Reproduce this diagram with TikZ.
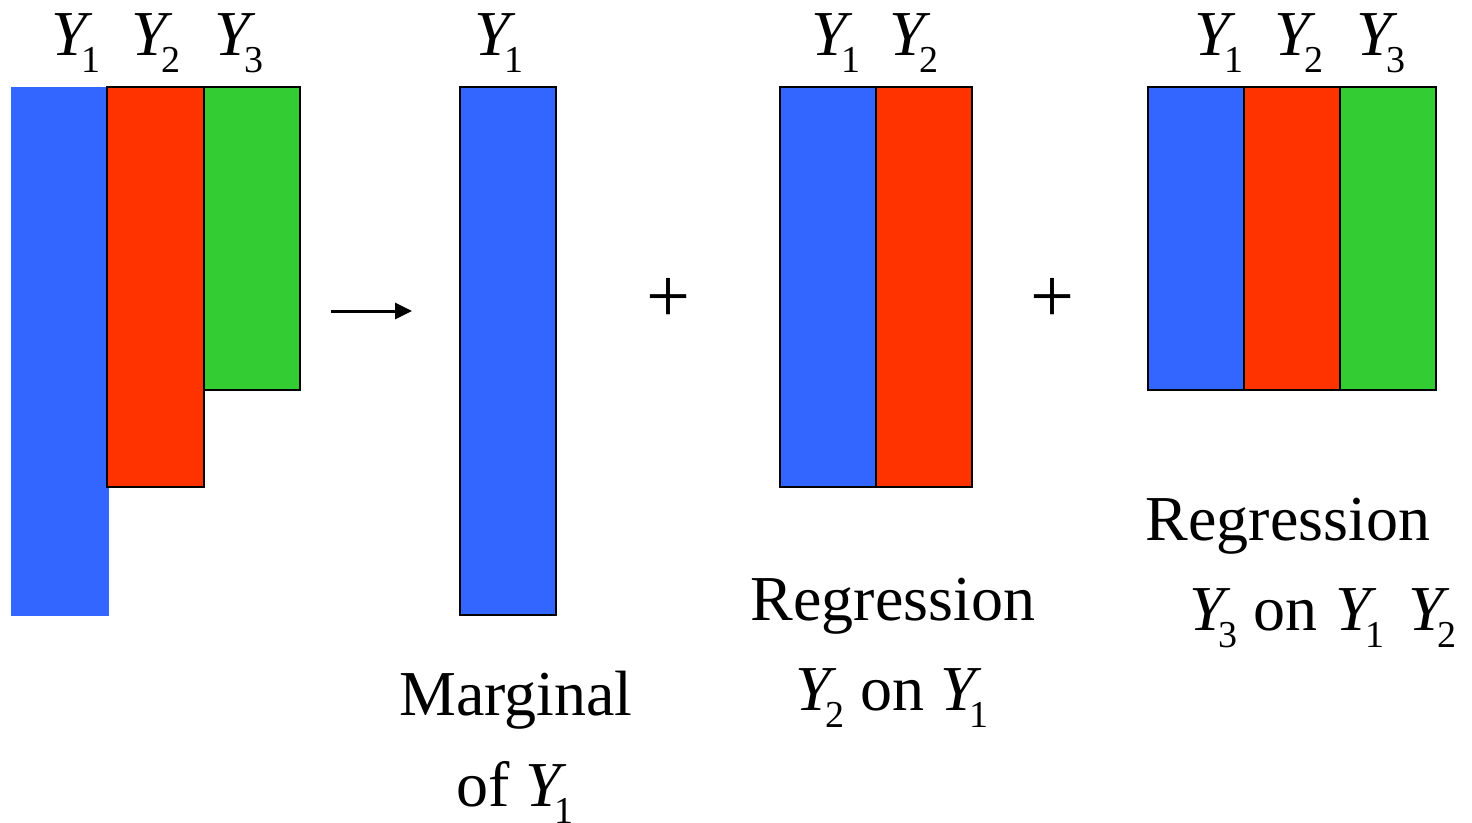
\documentclass[tikz,border=0pt]{standalone}
\usepackage{fontspec}
\setmainfont{Liberation Serif}
\usetikzlibrary{arrows.meta}
\definecolor{cblue}{HTML}{3366FF}
\definecolor{cred}{HTML}{FF3300}
\definecolor{cgreen}{HTML}{33CC33}
\newcommand{\Ysb}[1]{\textit{Y}\kern-12pt\raisebox{-17pt}{\fontsize{38}{38}\selectfont #1}}
\tikzset{
  bar/.style={draw=black, line width=2pt},
  lab/.style={anchor=base, inner sep=0pt, font=\fontsize{64}{64}\selectfont},
  txt/.style={anchor=base, inner sep=0pt, font=\fontsize{64}{64}\selectfont},
  plus/.style={inner sep=0pt, font=\fontsize{78}{78}\selectfont},
}
\begin{document}
\begin{tikzpicture}[x=1pt,y=-1pt]
\useasboundingbox (0,0) rectangle (1472,822);
% block 1
\fill[cblue] (11,87) rectangle (109,616);
\draw[bar, fill=cred] (107,87) rectangle (204,487);
\draw[bar, fill=cgreen] (204,87) rectangle (300,390);
\node[lab] (l11) at (76,55) {\Ysb{1}};
\node[lab] (l12) at (156,55) {\Ysb{2}};
\node[lab] (l13) at (239,55) {\Ysb{3}};
% arrow
\coordinate (a1) at (331,311);
\coordinate (a2) at (412,311);
\draw[line width=3pt, -{Triangle[length=17pt,width=16pt]}] (a1) -- (a2);
% block 2
\draw[bar, fill=cblue] (460,87) rectangle (556,615);
\node[lab] (l21) at (499,55) {\Ysb{1}};
\node[txt] (m1) at (516,715) {Marginal};
\node[txt] (m2) at (515,806) {of \Ysb{1}};
% plus
\node[plus] (p1) at (668,300) {+};
\node[plus] (p2) at (1052,300) {+};
% block 3
\draw[bar, fill=cblue] (780,87) rectangle (876,487);
\draw[bar, fill=cred] (876,87) rectangle (972,487);
\node[lab] (l31) at (836,55) {\Ysb{1}};
\node[lab] (l32) at (914,55) {\Ysb{2}};
\node[txt] (r1) at (893,620) {Regression};
\node[txt] (r2) at (892,710) {\Ysb{2} on \Ysb{1}};
% block 4
\draw[bar, fill=cblue] (1148,87) rectangle (1244,390);
\draw[bar, fill=cred] (1244,87) rectangle (1340,390);
\draw[bar, fill=cgreen] (1340,87) rectangle (1436,390);
\node[lab] (l41) at (1219,55) {\Ysb{1}};
\node[lab] (l42) at (1299,55) {\Ysb{2}};
\node[lab] (l43) at (1381,55) {\Ysb{3}};
\node[txt] (s1) at (1288,540) {Regression};
\node[txt] (s2) at (1323,630) {\Ysb{3} on\hspace{18pt}\Ysb{1}\hspace{24pt}\Ysb{2}};
\end{tikzpicture}
\end{document}
